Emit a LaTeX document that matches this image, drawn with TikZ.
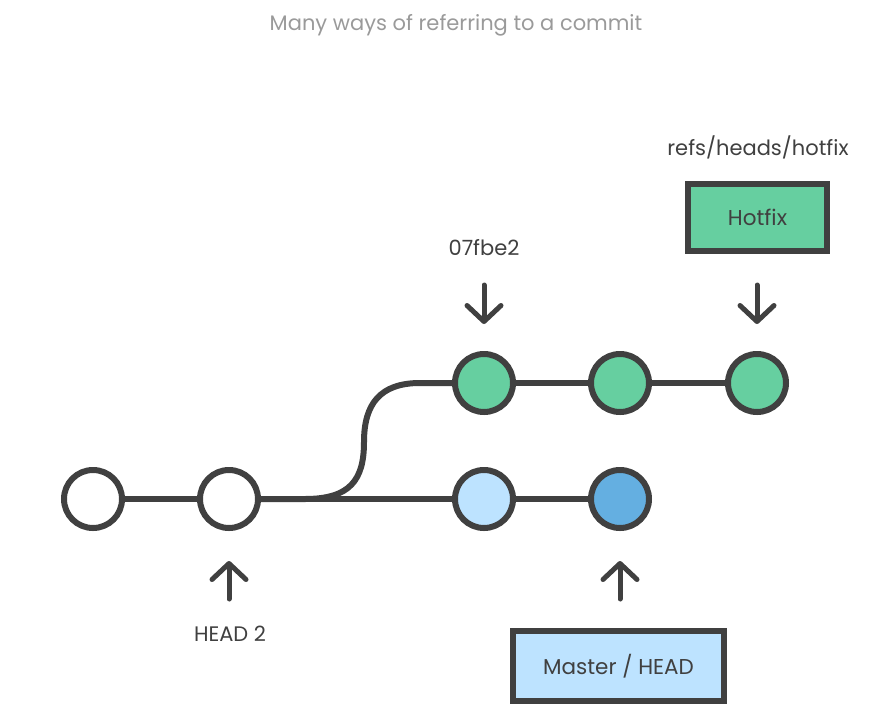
\documentclass[tikz,border=0pt]{standalone}
\usepackage{fontspec}
\setmainfont{Poppins}
\usetikzlibrary{arrows.meta}
\definecolor{ink}{HTML}{404040}
\definecolor{titlegray}{HTML}{9A9A9A}
\definecolor{cgreen}{HTML}{66CFA0}
\definecolor{clight}{HTML}{BDE3FF}
\definecolor{cblue}{HTML}{64AFE1}
\tikzset{
  commit/.style={circle, draw=ink, line width=6pt, minimum size=58pt, inner sep=0pt},
  link/.style={draw=ink, line width=6pt},
  ptr/.style={draw=ink, line width=5pt, line cap=round, -{Straight Barb[length=16pt,width=34pt,round]}},
  refbox/.style={rectangle, draw=ink, line width=6pt, inner sep=0pt, text=ink, font=\fontsize{21.5}{24}\selectfont},
  lbl/.style={text=ink, font=\fontsize{21}{24}\selectfont, inner sep=0pt},
}
\begin{document}
\begin{tikzpicture}[x=1pt,y=-1pt]
\useasboundingbox (0,0) rectangle (873,721);
\node[text=titlegray, font=\fontsize{21}{24}\selectfont, inner sep=0pt] (title) at (456,25) {Many ways of referring to a commit};
% commits
\node[commit, fill=white] (c1) at (93,499) {};
\node[commit, fill=white] (c2) at (229,499) {};
\node[commit, fill=clight] (b1) at (484,499) {};
\node[commit, fill=cblue] (b2) at (620,499) {};
\node[commit, fill=cgreen] (g1) at (484,383) {};
\node[commit, fill=cgreen] (g2) at (620,383) {};
\node[commit, fill=cgreen] (g3) at (757,383) {};
% links
\draw[link] (c1) -- (c2);
\draw[link] (c2) -- (b1);
\draw[link] (b1) -- (b2);
\draw[link] (g1) -- (g2);
\draw[link] (g2) -- (g3);
\draw[link] (c2.east) -- (305,499) .. controls (350,499) and (364,480) .. (364,442) .. controls (364,404) and (380,383) .. (420,383) -- (g1.west);
% labels and boxes
\node[lbl] (l07) at (484,248) {07fbe2};
\node[lbl] (lrefs) at (758,147) {refs/heads/hotfix};
\node[lbl] (lhead2) at (230,634) {HEAD 2};
\node[refbox, fill=cgreen, minimum width=139pt, minimum height=67pt] (hotfix) at (757.5,217.5) {Hotfix};
\node[refbox, fill=clight, minimum width=211pt, minimum height=70pt] (master) at (618.5,666) {Master / HEAD};
% pointers
\coordinate (p1s) at (484,285); \coordinate (p1e) at (484,324);
\coordinate (p2s) at (757,285); \coordinate (p2e) at (757,324);
\coordinate (p3s) at (229,599); \coordinate (p3e) at (229,561);
\coordinate (p4s) at (620,599); \coordinate (p4e) at (620,561);
\draw[ptr] (p1s) -- (p1e);
\draw[ptr] (p2s) -- (p2e);
\draw[ptr] (p3s) -- (p3e);
\draw[ptr] (p4s) -- (p4e);
\end{tikzpicture}
\end{document}
